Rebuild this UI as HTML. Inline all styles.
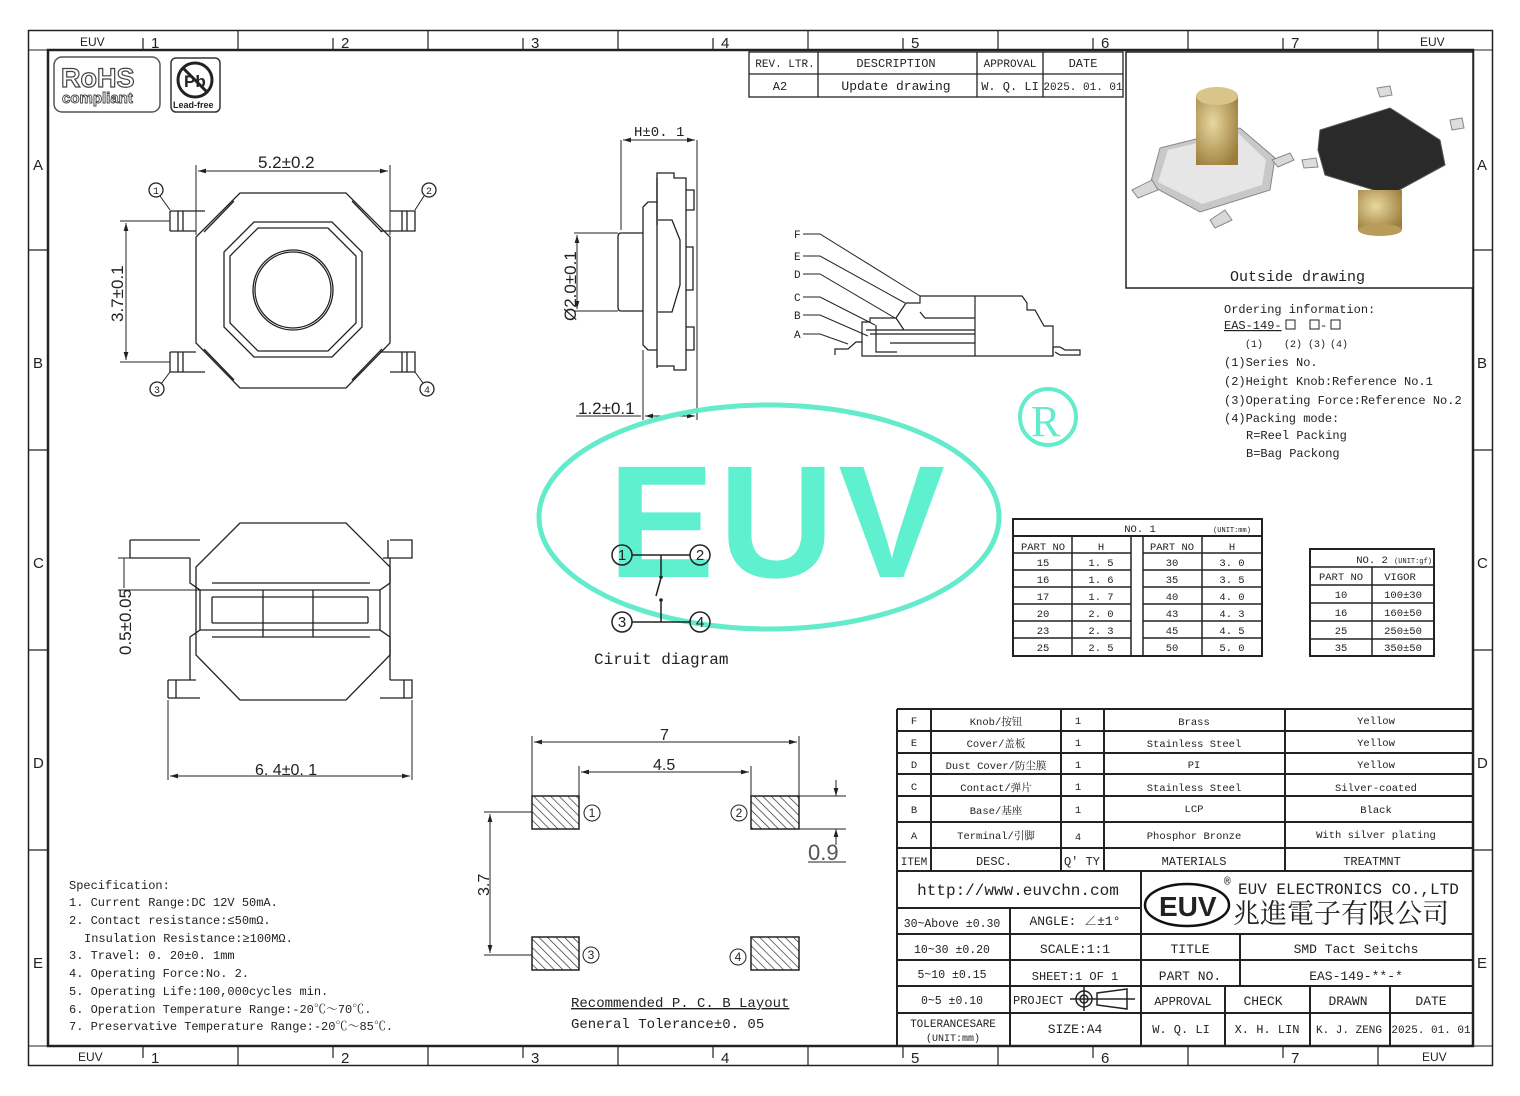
<!DOCTYPE html>
<html><head><meta charset="utf-8"><style>
html,body{margin:0;padding:0;background:#fff}
svg{display:block}
text{font-family:"Liberation Mono","Noto Serif CJK SC",monospace;fill:#222}
.s{font-family:"Liberation Sans","Noto Sans CJK SC",sans-serif}
</style></head><body>
<svg width="1520" height="1096" viewBox="0 0 1520 1096" xmlns="http://www.w3.org/2000/svg">
<defs>
<pattern id="h" width="6" height="6" patternUnits="userSpaceOnUse" patternTransform="rotate(-45)"><line x1="0" y1="0" x2="0" y2="6" stroke="#222" stroke-width="1.3"/></pattern>
<marker id="a" viewBox="0 0 10 10" refX="10" refY="5" markerWidth="8" markerHeight="8" orient="auto-start-reverse"><path d="M0,2 L10,5 L0,8z" fill="#222"/></marker>
<radialGradient id="gold" cx="0.4" cy="0.4" r="0.7"><stop offset="0" stop-color="#e8d8a0"/><stop offset="1" stop-color="#9c7d3c"/></radialGradient>
</defs>
<g fill="none" stroke="#222">
<rect x="28.5" y="30.5" width="1464" height="1035" stroke-width="1.5"/>
<rect x="48" y="50" width="1425" height="996" stroke-width="2.5"/>
<line x1="28" y1="50" x2="48" y2="50"/><line x1="1473" y1="50" x2="1492" y2="50"/>
<line x1="28" y1="1046" x2="48" y2="1046"/><line x1="1473" y1="1046" x2="1492" y2="1046"/>
<g stroke-width="1.2">
<path d="M238,30V50M428,30V50M618,30V50M808,30V50M998,30V50M1188,30V50M1378,30V50"/>
<path d="M143,38V50M333,38V50M523,38V50M713,38V50M903,38V50M1093,38V50M1283,38V50"/>
<path d="M238,1046V1065M428,1046V1065M618,1046V1065M808,1046V1065M998,1046V1065M1188,1046V1065M1378,1046V1065"/>
<path d="M143,1046V1058M333,1046V1058M523,1046V1058M713,1046V1058M903,1046V1058M1093,1046V1058M1283,1046V1058"/>
<path d="M28,250H48M28,450H48M28,650H48M28,850H48M1473,250H1492M1473,450H1492M1473,650H1492M1473,850H1492"/>
</g>
</g>
<g font-size="15" class="s">
<text x="80" y="46" font-size="12" class="s">EUV</text><text x="151" y="48" class="s">1</text><text x="341" y="48" class="s">2</text><text x="531" y="48" class="s">3</text><text x="721" y="48" class="s">4</text><text x="911" y="48" class="s">5</text><text x="1101" y="48" class="s">6</text><text x="1291" y="48" class="s">7</text><text x="1420" y="46" font-size="12" class="s">EUV</text>
<text x="78" y="1061" font-size="12" class="s">EUV</text><text x="151" y="1063" class="s">1</text><text x="341" y="1063" class="s">2</text><text x="531" y="1063" class="s">3</text><text x="721" y="1063" class="s">4</text><text x="911" y="1063" class="s">5</text><text x="1101" y="1063" class="s">6</text><text x="1291" y="1063" class="s">7</text><text x="1422" y="1061" font-size="12" class="s">EUV</text>
<text x="33" y="170" class="s">A</text><text x="33" y="368" class="s">B</text><text x="33" y="568" class="s">C</text><text x="33" y="768" class="s">D</text><text x="33" y="968" class="s">E</text>
<text x="1477" y="170" class="s">A</text><text x="1477" y="368" class="s">B</text><text x="1477" y="568" class="s">C</text><text x="1477" y="768" class="s">D</text><text x="1477" y="968" class="s">E</text>
</g>

<rect x="54" y="57" width="106" height="55" rx="8" fill="none" stroke="#555" stroke-width="1.5"/>
<text x="61" y="87" font-size="27" font-weight="bold" class="s" fill="#fff" stroke="#444" stroke-width="1.2" style="fill:#fff">RoHS</text>
<text x="62" y="103" font-size="15" font-weight="bold" class="s" stroke="#444" stroke-width="0.9" style="fill:#fff">compliant</text>
<rect x="171" y="58" width="49" height="54" rx="5" fill="none" stroke="#333" stroke-width="1.5"/>
<circle cx="195" cy="80" r="17" fill="none" stroke="#222" stroke-width="3"/>
<text x="184" y="87" font-size="17" font-weight="bold" class="s">Pb</text>
<line x1="183" y1="68" x2="207" y2="92" stroke="#222" stroke-width="3"/>
<text x="173" y="108" font-size="9" font-weight="bold" class="s">Lead-free</text>

<g fill="none" stroke="#222" stroke-width="1.3">
<rect x="749" y="52" width="374" height="45"/>
<line x1="749" y1="74" x2="1123" y2="74"/>
<path d="M818,52V97M977,52V97M1043,52V97"/>
</g>
<g font-size="12" text-anchor="middle">
<text x="785" y="67" font-size="11">REV. LTR.</text><text x="896" y="67">DESCRIPTION</text><text x="1010" y="67" font-size="11">APPROVAL</text><text x="1083" y="67">DATE</text>
<text x="780" y="90">A2</text><text x="896" y="90" font-size="13">Update drawing</text><text x="1010" y="90">W. Q. LI</text><text x="1083" y="90" font-size="11">2025. 01. 01</text>
</g>

<rect x="1126" y="52" width="347" height="236" fill="#fff" stroke="#222" stroke-width="1.5"/>
<g>
<path d="M1160,148 L1240,128 L1275,158 L1270,190 L1200,212 L1150,185 Z" fill="#c8c8c8" stroke="#888"/>
<path d="M1168,150 L1238,133 L1266,160 L1262,185 L1202,204 L1158,182 Z" fill="#e6e6e6"/>
<path d="M1132,190 L1152,180 L1158,190 L1138,198Z M1210,220 L1225,210 L1232,220 L1215,228Z M1272,160 L1290,153 L1294,160 L1278,167Z" fill="#d8d8d8" stroke="#888"/>
<rect x="1196" y="95" width="42" height="70" fill="url(#gold)"/>
<ellipse cx="1217" cy="96" rx="21" ry="9" fill="#d9c48a"/>
<path d="M1320,130 L1390,108 L1440,140 L1445,165 L1390,195 L1325,175 L1318,150Z" fill="#2a2a2a" stroke="#555"/>
<rect x="1358" y="190" width="44" height="40" fill="url(#gold)"/>
<ellipse cx="1380" cy="230" rx="22" ry="6" fill="#b89d5a"/>
<path d="M1377,88 L1390,86 L1392,95 L1380,97Z M1450,120 L1462,118 L1464,128 L1452,130Z M1302,160 L1316,158 L1318,167 L1304,168Z" fill="#ddd" stroke="#888"/>
</g>
<text x="1230" y="281" font-size="15">Outside drawing</text>

<g font-size="12">
<text x="1224" y="313">Ordering information:</text>
<text x="1224" y="329" text-decoration="underline">EAS-149-</text><rect x="1286" y="320" width="9" height="9" fill="none" stroke="#222"/>
<rect x="1310" y="320" width="9" height="9" fill="none" stroke="#222"/><text x="1320" y="329">-</text><rect x="1331" y="320" width="9" height="9" fill="none" stroke="#222"/>
<text x="1245" y="347" font-size="10">(1)</text><text x="1284" y="347" font-size="10">(2)</text><text x="1308" y="347" font-size="10">(3)</text><text x="1330" y="347" font-size="10">(4)</text>
<text x="1224" y="366">(1)Series No.</text>
<text x="1224" y="385">(2)Height Knob:Reference No.1</text>
<text x="1224" y="404">(3)Operating Force:Reference No.2</text>
<text x="1224" y="422">(4)Packing mode:</text>
<text x="1246" y="439">R=Reel Packing</text>
<text x="1246" y="457">B=Bag Packong</text>
</g>

<g fill="none" stroke="#222" stroke-width="1.3">
<path d="M240,193 H346 L390,237 V343 L346,388 H240 L196,343 V237 Z"/>
<path d="M234,201 L204,232 M352,201 L382,232 M234,380 L204,349 M352,380 L382,349"/>
<path d="M254,222 H332 L362,252 V327 L332,357 H254 L224,327 V252 Z"/>
<path d="M258,228 H328 L356,256 V323 L328,351 H258 L230,323 V256 Z"/>
<circle cx="293" cy="290" r="40"/><circle cx="293" cy="290" r="38"/>
<path d="M170,211 H205 M170,231 H196 M170,211 V231 M178,211 V231 M183,211 V231"/>
<path d="M390,211 H415 V231 H380 M407,211 V231 M402,211 V231"/>
<path d="M170,352 H196 M170,372 H205 M170,352 V372 M178,352 V372 M183,352 V372"/>
<path d="M380,352 H415 V372 H390 M407,352 V372 M402,352 V372"/>
<line x1="196" y1="165" x2="196" y2="235" stroke-width="1"/><line x1="390" y1="165" x2="390" y2="235" stroke-width="1"/>
<line x1="198" y1="171" x2="388" y2="171" stroke-width="1" marker-start="url(#a)" marker-end="url(#a)"/>
<line x1="120" y1="221" x2="170" y2="221" stroke-width="1"/><line x1="120" y1="362" x2="170" y2="362" stroke-width="1"/>
<line x1="126" y1="223" x2="126" y2="360" stroke-width="1" marker-start="url(#a)" marker-end="url(#a)"/>
<circle cx="156" cy="190" r="7"/><circle cx="429" cy="190" r="7"/><circle cx="157" cy="389" r="7"/><circle cx="427" cy="389" r="7"/>
<path d="M160,196 L170,210 M424,196 L415,210 M161,384 L170,372 M423,383 L415,372" stroke-width="1"/>
</g>
<g font-size="10" text-anchor="middle"><text x="156" y="194">1</text><text x="429" y="194">2</text><text x="157" y="393">3</text><text x="427" y="393">4</text></g>
<text x="258" y="168" font-size="17" class="s">5.2±0.2</text>
<text transform="translate(123,322) rotate(-90)" font-size="17" class="s">3.7±0.1</text>

<g fill="none" stroke="#222" stroke-width="1.3">
<path d="M240,523 H346 L390,567 V655 L346,700 H240 L196,655 V567 Z"/>
<path d="M130,540 H200 M130,558 H190 M130,540 V558 M390,540 H412 V558 H383 M388,540 V558"/>
<path d="M168,680 H196 M168,698 H200 M168,680 V698 M176,680 V698 M390,680 H412 V698 H380 M404,680 V698"/>
<path d="M190,558 V583 L200,590 V630 L190,637 V680"/>
<path d="M390,558 V583 L380,590 V630 L390,637 V680"/>
<path d="M200,590 H380 M200,630 H380 M212,597 H368 M212,623 H368 M212,597 V623 M368,597 V623 M263,597 V637 M313,597 V637 M263,590 V597 M313,590 V597"/>
<path d="M212,583 H370 M212,637 H370"/>
<path d="M168,700 V780 M412,700 V780" stroke-width="1"/>
<line x1="170" y1="776" x2="410" y2="776" stroke-width="1" marker-start="url(#a)" marker-end="url(#a)"/>
<path d="M118,558 H130 M118,590 H200" stroke-width="1"/>
<line x1="124" y1="558" x2="124" y2="588" stroke-width="1"/>
</g>
<text x="255" y="775" font-size="16" class="s">6. 4±0. 1</text>
<text transform="translate(131,655) rotate(-90)" font-size="17" class="s">0.5±0.05</text>

<g fill="none" stroke="#222" stroke-width="1.3">
<path d="M621,233 H643 M621,311 H643 M618,237 V307 Q618,311 621,311 M618,237 Q618,233 621,233"/>
<path d="M643,207 V345 L648,350 H657 M643,207 L648,202 H657"/>
<path d="M657,197 V368 M657,173 H674 V178 H686 V370 H674 V366 H657 Z"/>
<path d="M657,178 V225 M658,220 H672 L680,240 V285 L672,312 H658"/>
<path d="M686,190 H694 V210 H686 M686,327 H694 V350 H686 M686,247 H693 V290 H686"/>
<line x1="621" y1="140" x2="621" y2="230" stroke-width="1"/><line x1="697" y1="140" x2="697" y2="420" stroke-width="1"/>
<line x1="623" y1="140" x2="695" y2="140" stroke-width="1" marker-start="url(#a)" marker-end="url(#a)"/>
<path d="M574,233 H618 M574,311 H618" stroke-width="1"/>
<line x1="577" y1="235" x2="577" y2="309" stroke-width="1" marker-start="url(#a)" marker-end="url(#a)"/>
<line x1="643" y1="350" x2="643" y2="420" stroke-width="1"/>
<line x1="576" y1="416" x2="641" y2="416" stroke-width="1"/>
<line x1="645" y1="416" x2="695" y2="416" stroke-width="1" marker-start="url(#a)" marker-end="url(#a)"/>
</g>
<text x="634" y="136" font-size="14">H±0. 1</text>
<text transform="translate(576,321) rotate(-90)" font-size="17" class="s">Ø2.0±0.1</text>
<text x="578" y="414" font-size="17" class="s">1.2±0.1</text>

<g fill="none" stroke="#222" stroke-width="1.2">
<path d="M835,355 V349 H848 L856,342 H862 V356 H1053 V347 H1060 L1065,350 H1080 V355 H1060 L1055,352"/>
<path d="M862,342 V322 H870 V318 H896 L906,303 H920 V296 H1022 L1027,303 V310 H1035 L1044,326 H1053 V356"/>
<path d="M975,296 V356 M870,334 H975 M876,325 V352 H897 M896,318 L904,330 M866,330 H975 M890,343 H975 M920,312 L925,318 H975"/>
<path d="M803,234 H820 L920,296 M803,256 H820 L905,303 M803,274 H820 L895,318 M803,297 H820 L875,325 M803,315 H820 L868,336 M803,334 H820 L848,344" stroke-width="1"/>
</g>
<g font-size="11"><text x="794" y="238">F</text><text x="794" y="260">E</text><text x="794" y="278">D</text><text x="794" y="301">C</text><text x="794" y="319">B</text><text x="794" y="338">A</text></g>

<ellipse cx="769" cy="517" rx="230" ry="112" fill="none" stroke="#63ebcb" stroke-width="5"/>
<text x="608" y="577" font-size="160" font-weight="bold" class="s" letter-spacing="4" style="fill:#5ff0cf">EUV</text>
<circle cx="1048" cy="417" r="28" fill="none" stroke="#63ebcb" stroke-width="4"/>
<text x="1031" y="436" font-size="44" style="fill:#63ebcb;font-family:'Liberation Serif',serif">R</text>

<g fill="none" stroke="#222" stroke-width="1.5">
<circle cx="622" cy="555" r="10"/><circle cx="700" cy="555" r="10"/><circle cx="622" cy="622" r="10"/><circle cx="700" cy="622" r="10"/>
<path d="M632,555 H690 M632,622 H690 M661,555 V575 M661,578 L656,596 M661,600 V622"/>
</g>
<circle cx="661" cy="577" r="1.8" fill="#222"/><circle cx="661" cy="600" r="1.8" fill="#222"/>
<g font-size="15" text-anchor="middle" class="s"><text x="622" y="560" class="s">1</text><text x="700" y="560" class="s">2</text><text x="622" y="627" class="s">3</text><text x="700" y="627" class="s">4</text></g>
<text x="594" y="664" font-size="16">Ciruit diagram</text>

<g fill="none" stroke="#222" stroke-width="2">
<rect x="1013" y="519" width="249" height="137"/>
<line x1="1013" y1="536" x2="1262" y2="536"/>
<path d="M1013,553 H1131 M1143,553 H1262 M1013,570 H1131 M1143,570 H1262 M1013,587 H1131 M1143,587 H1262 M1013,604 H1131 M1143,604 H1262 M1013,621 H1131 M1143,621 H1262 M1013,638 H1131 M1143,638 H1262" stroke-width="1.5"/>
<path d="M1072,536 V656 M1131,536 V656 M1143,536 V656 M1202,536 V656" stroke-width="1.5"/>
<rect x="1310" y="549" width="124" height="107"/>
<path d="M1310,567 H1434 M1310,585 H1434 M1310,603 H1434 M1310,621 H1434 M1310,639 H1434 M1372,567 V656" stroke-width="1.5"/>
</g>
<g font-size="10.5" text-anchor="middle">
<text x="1140" y="532">NO. 1</text><text x="1232" y="532" font-size="7">(UNIT:mm)</text>
<text x="1043" y="550">PART NO</text><text x="1101" y="550">H</text><text x="1172" y="550">PART NO</text><text x="1232" y="550">H</text>
<text x="1043" y="566">15</text><text x="1101" y="566">1. 5</text><text x="1172" y="566">30</text><text x="1232" y="566">3. 0</text>
<text x="1043" y="583">16</text><text x="1101" y="583">1. 6</text><text x="1172" y="583">35</text><text x="1232" y="583">3. 5</text>
<text x="1043" y="600">17</text><text x="1101" y="600">1. 7</text><text x="1172" y="600">40</text><text x="1232" y="600">4. 0</text>
<text x="1043" y="617">20</text><text x="1101" y="617">2. 0</text><text x="1172" y="617">43</text><text x="1232" y="617">4. 3</text>
<text x="1043" y="634">23</text><text x="1101" y="634">2. 3</text><text x="1172" y="634">45</text><text x="1232" y="634">4. 5</text>
<text x="1043" y="651">25</text><text x="1101" y="651">2. 5</text><text x="1172" y="651">50</text><text x="1232" y="651">5. 0</text>
<text x="1372" y="563">NO. 2</text><text x="1413" y="563" font-size="7">(UNIT:gf)</text>
<text x="1341" y="580">PART NO</text><text x="1400" y="580">VIGOR</text>
<text x="1341" y="598">10</text><text x="1403" y="598">100±30</text>
<text x="1341" y="616">16</text><text x="1403" y="616">160±50</text>
<text x="1341" y="634">25</text><text x="1403" y="634">250±50</text>
<text x="1341" y="651">35</text><text x="1403" y="651">350±50</text>
</g>

<g fill="none" stroke="#222" stroke-width="1">
<rect x="532" y="796" width="47" height="33" fill="url(#h)" stroke-width="1.5"/>
<rect x="751" y="796" width="48" height="33" fill="url(#h)" stroke-width="1.5"/>
<rect x="532" y="937" width="47" height="33" fill="url(#h)" stroke-width="1.5"/>
<rect x="751" y="937" width="48" height="33" fill="url(#h)" stroke-width="1.5"/>
<path d="M532,736 V796 M799,736 V796 M579,766 V796 M751,766 V796"/>
<line x1="534" y1="742" x2="797" y2="742" marker-start="url(#a)" marker-end="url(#a)"/>
<line x1="581" y1="772" x2="749" y2="772" marker-start="url(#a)" marker-end="url(#a)"/>
<path d="M484,812 H532 M484,955 H532"/>
<line x1="490" y1="814" x2="490" y2="953" marker-start="url(#a)" marker-end="url(#a)"/>
<path d="M799,796 H846 M799,829 H846"/>
<line x1="836" y1="780" x2="836" y2="796" marker-end="url(#a)"/><line x1="836" y1="845" x2="836" y2="829" marker-end="url(#a)"/>
<line x1="808" y1="862" x2="846" y2="862"/>
<circle cx="592" cy="813" r="8"/><circle cx="739" cy="813" r="8"/><circle cx="591" cy="955" r="8"/><circle cx="738" cy="957" r="8"/>
</g>
<g font-size="12" text-anchor="middle" class="s"><text x="592" y="817" class="s">1</text><text x="739" y="817" class="s">2</text><text x="591" y="959" class="s">3</text><text x="738" y="961" class="s">4</text></g>
<text x="660" y="740" font-size="16" class="s">7</text>
<text x="653" y="770" font-size="16" class="s">4.5</text>
<text transform="translate(489,896) rotate(-90)" font-size="16" class="s">3.7</text>
<text x="808" y="860" font-size="22" class="s" style="fill:#555">0.9</text>
<text x="571" y="1007" font-size="14" text-decoration="underline">Recommended P. C. B Layout</text>
<text x="571" y="1028" font-size="14">General Tolerance±0. 05</text>

<g font-size="12">
<text x="69" y="889">Specification:</text>
<text x="69" y="906">1. Current Range:DC 12V 50mA.</text>
<text x="69" y="924">2. Contact resistance:≤50mΩ.</text>
<text x="84" y="942">Insulation Resistance:≥100MΩ.</text>
<text x="69" y="959">3. Travel: 0. 20±0. 1mm</text>
<text x="69" y="977">4. Operating Force:No. 2.</text>
<text x="69" y="995">5. Operating Life:100,000cycles min.</text>
<text x="69" y="1013">6. Operation Temperature Range:-20℃～70℃.</text>
<text x="69" y="1030">7. Preservative Temperature Range:-20℃～85℃.</text>
</g>

<g fill="none" stroke="#222" stroke-width="2">
<path d="M897,709 H1473 M897,731 H1473 M897,753 H1473 M897,774 H1473 M897,796 H1473 M897,822 H1473 M897,848 H1473 M897,871 H1473"/>
<path d="M897,709 V1046 M931,709 V871 M1061,709 V871 M1104,709 V871 M1285,709 V871"/>
</g>
<g font-size="10.5" text-anchor="middle">
<text x="914" y="724">F</text><text x="996" y="725">Knob/按钮</text><text x="1078" y="724">1</text><text x="1194" y="725">Brass</text><text x="1376" y="724">Yellow</text>
<text x="914" y="746">E</text><text x="996" y="747">Cover/盖板</text><text x="1078" y="746">1</text><text x="1194" y="747">Stainless Steel</text><text x="1376" y="746">Yellow</text>
<text x="914" y="768">D</text><text x="996" y="769">Dust Cover/防尘膜</text><text x="1078" y="768">1</text><text x="1194" y="768">PI</text><text x="1376" y="768">Yellow</text>
<text x="914" y="790">C</text><text x="996" y="791">Contact/弹片</text><text x="1078" y="790">1</text><text x="1194" y="791">Stainless Steel</text><text x="1376" y="791">Silver-coated</text>
<text x="914" y="813">B</text><text x="996" y="814">Base/基座</text><text x="1078" y="813">1</text><text x="1194" y="812">LCP</text><text x="1376" y="813">Black</text>
<text x="914" y="839">A</text><text x="996" y="839">Terminal/引脚</text><text x="1078" y="840">4</text><text x="1194" y="839">Phosphor Bronze</text><text x="1376" y="838">With silver plating</text>
<text x="914" y="865" font-size="11">ITEM</text><text x="994" y="865" font-size="12">DESC.</text><text x="1082" y="865" font-size="12">Q' TY</text><text x="1194" y="865" font-size="12">MATERIALS</text><text x="1372" y="865" font-size="12">TREATMNT</text>
</g>

<g fill="none" stroke="#222" stroke-width="2">
<path d="M897,908 H1141 M897,934 H1473 M897,960 H1473 M897,986 H1473 M897,1013 H1473"/>
<path d="M1010,908 V1046 M1141,871 V1046 M1240,934 V986 M1225,986 V1046 M1310,986 V1046 M1390,986 V1046"/>
</g>
<g font-size="13" text-anchor="middle">
<text x="1018" y="895" font-size="16">http://www.euvchn.com</text>
<text x="952" y="927" font-size="11.5">30~Above ±0.30</text><text x="1075" y="925">ANGLE: ∠±1°</text>
<text x="952" y="953" font-size="11.5">10~30  ±0.20</text><text x="1075" y="953">SCALE:1:1</text><text x="1190" y="953">TITLE</text><text x="1356" y="953">SMD Tact Seitchs</text>
<text x="952" y="978" font-size="11.5">5~10   ±0.15</text><text x="1075" y="980" font-size="12">SHEET:1 OF 1</text><text x="1190" y="980">PART NO.</text><text x="1356" y="980">EAS-149-**-*</text>
<text x="952" y="1004" font-size="11.5">0~5    ±0.10</text><text x="1183" y="1005" font-size="12">APPROVAL</text><text x="1263" y="1005">CHECK</text><text x="1348" y="1005">DRAWN</text><text x="1431" y="1005">DATE</text>
<text x="953" y="1027" font-size="11">TOLERANCESARE</text><text x="953" y="1041" font-size="10">(UNIT:mm)</text>
<text x="1075" y="1033">SIZE:A4</text><text x="1181" y="1033" font-size="12">W. Q. LI</text><text x="1267" y="1033" font-size="12">X. H. LIN</text><text x="1349" y="1033" font-size="11">K. J. ZENG</text><text x="1431" y="1033" font-size="11">2025. 01. 01</text>
</g>
<text x="1013" y="1004" font-size="12">PROJECT</text>
<g fill="none" stroke="#222" stroke-width="1.5"><circle cx="1084" cy="999" r="8"/><circle cx="1084" cy="999" r="4"/><path d="M1070,999 H1098 M1084,987 V1011 M1097,993 L1127,989 V1009 L1097,1005 Z M1093,999 H1135"/></g>
<ellipse cx="1187" cy="905" rx="42" ry="21" fill="none" stroke="#111" stroke-width="2.5"/>
<text x="1159" y="916" font-size="28" font-weight="bold" class="s">EUV</text>
<text x="1224" y="885" font-size="11">®</text>
<text x="1238" y="894" font-size="16">EUV ELECTRONICS CO.,LTD</text>
<text x="1233" y="923" font-size="27" style="font-family:'Noto Serif CJK SC',serif">兆進電子有限公司</text>
</svg>
</body></html>
